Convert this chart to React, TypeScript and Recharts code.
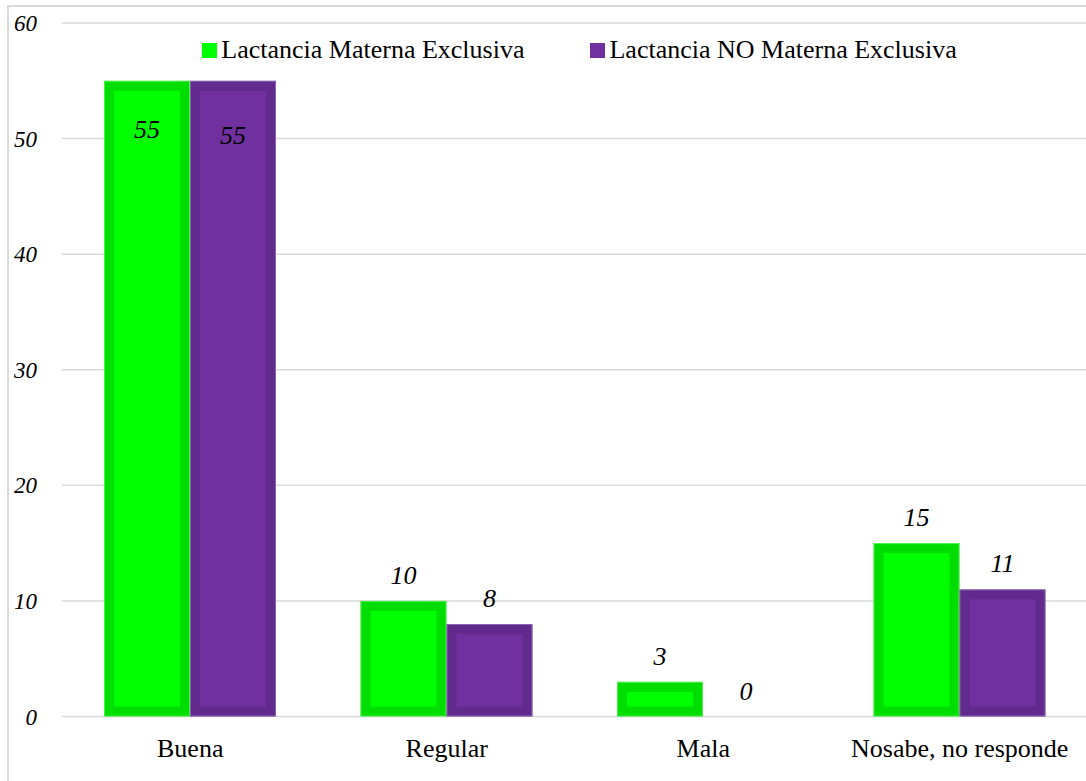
import React from "react";
import { Bar, BarChart, CartesianGrid, LabelList, Legend, XAxis, YAxis } from "recharts";

const CATEGORIES = ["Buena", "Regular", "Mala", "Nosabe, no responde"];
const EXCLUSIVA = [55, 10, 3, 15];
const NO_EXCLUSIVA = [55, 8, 0, 11];
const Y_TICKS = [0, 10, 20, 30, 40, 50, 60];

const SERIES = [
  { key: "lme", name: "Lactancia Materna Exclusiva", fill: "#00ff00", edge: "#00dd00", rim: "#7dff7d", inside: 49 },
  { key: "nolme", name: "Lactancia NO Materna Exclusiva", fill: "#7030a0", edge: "#612a8c", rim: "#a58ac4", inside: 55 },
];

const data = CATEGORIES.map((name, i) => ({
  name,
  lme: EXCLUSIVA[i],
  nolme: NO_EXCLUSIVA[i],
}));

const FONT = "Times New Roman, Times, Liberation Serif, Tinos, DejaVu Serif, serif";

function FramedBar(props: any) {
  const { x, y, width, height, fill, edge, rim } = props;
  if (!height || height <= 0) return null;
  const inset = Math.min(10, height / 3);
  return (
    <g>
      <rect x={x} y={y} width={width} height={height} fill={edge} />
      <rect x={x + inset} y={y + inset} width={width - inset * 2} height={height - inset * 2} fill={fill} />
      <rect x={x + 0.5} y={y + 0.5} width={width - 1} height={height - 1} fill="none" stroke={rim} strokeOpacity={0.6} />
    </g>
  );
}

const valueLabel = (inside: number) => (props: any) => {
  const { x, y, width, value } = props;
  const cx = Number(x) + Number(width) / 2;
  const cy = value >= 50 ? Number(y) + inside : Number(y) - 25.5;
  return (
    <text x={cx} y={cy} textAnchor="middle" dominantBaseline="central" style={{ fontFamily: FONT }} fontStyle="italic" fontSize={26} fill="#000">
      {value}
    </text>
  );
};

function LegendBox({ payload }: any) {
  return (
    <div style={{ display: "flex", justifyContent: "center", gap: 66, fontFamily: FONT, fontSize: 26, lineHeight: "30px", color: "#000" }}>
      {(payload || []).map((p: any) => (
        <div key={p.value} style={{ display: "flex", alignItems: "center" }}>
          <span style={{ display: "inline-block", width: 15, height: 15, background: p.color, marginRight: 4 }} />
          <span>{p.value}</span>
        </div>
      ))}
    </div>
  );
}

export default function App() {
  return (
    <div style={{ position: "fixed", left: 0, top: 0, width: 1086, height: 781, overflow: "hidden", background: "#fff", fontFamily: FONT }}>
      <div style={{ position: "absolute", left: 7, top: 5, width: 1100, height: 800, border: "2px solid #d9d9d9" }} />
      <div style={{ position: "absolute", left: 0, top: 0 }}>
        <BarChart width={1092} height={781} data={data} margin={{ top: 23, right: 4, bottom: 24.5, left: 0 }} barGap={0} barCategoryGap={42} style={{ fontFamily: FONT }}>
          <CartesianGrid vertical={false} stroke="#d9d9d9" strokeWidth={1.5} />
          <XAxis
            dataKey="name"
            height={40}
            axisLine={false}
            tickLine={false}
            tickSize={0}
            tickMargin={22}
            interval={0}
            tick={{ fontFamily: FONT, fontSize: 26, fill: "#000", style: { fontFamily: FONT } }}
          />
          <YAxis
            width={62}
            domain={[0, 60]}
            ticks={Y_TICKS}
            axisLine={false}
            tickLine={false}
            tickSize={0}
            tickMargin={25}
            tick={{ fontFamily: FONT, fontSize: 23, fontStyle: "italic", fill: "#000", style: { fontFamily: FONT } }}
          />
          <Legend
            layout="horizontal"
            verticalAlign="middle"
            align="center"
            wrapperStyle={{ top: 35, left: 62, width: 1035 }}
            content={<LegendBox />}
          />
          {SERIES.map((s) => (
            <Bar
              key={s.key}
              dataKey={s.key}
              name={s.name}
              fill={s.fill}
              isAnimationActive={false}
              shape={(p: any) => <FramedBar {...p} edge={s.edge} rim={s.rim} fill={s.fill} />}
            >
              <LabelList dataKey={s.key} content={valueLabel(s.inside)} />
            </Bar>
          ))}
        </BarChart>
      </div>
    </div>
  );
}
